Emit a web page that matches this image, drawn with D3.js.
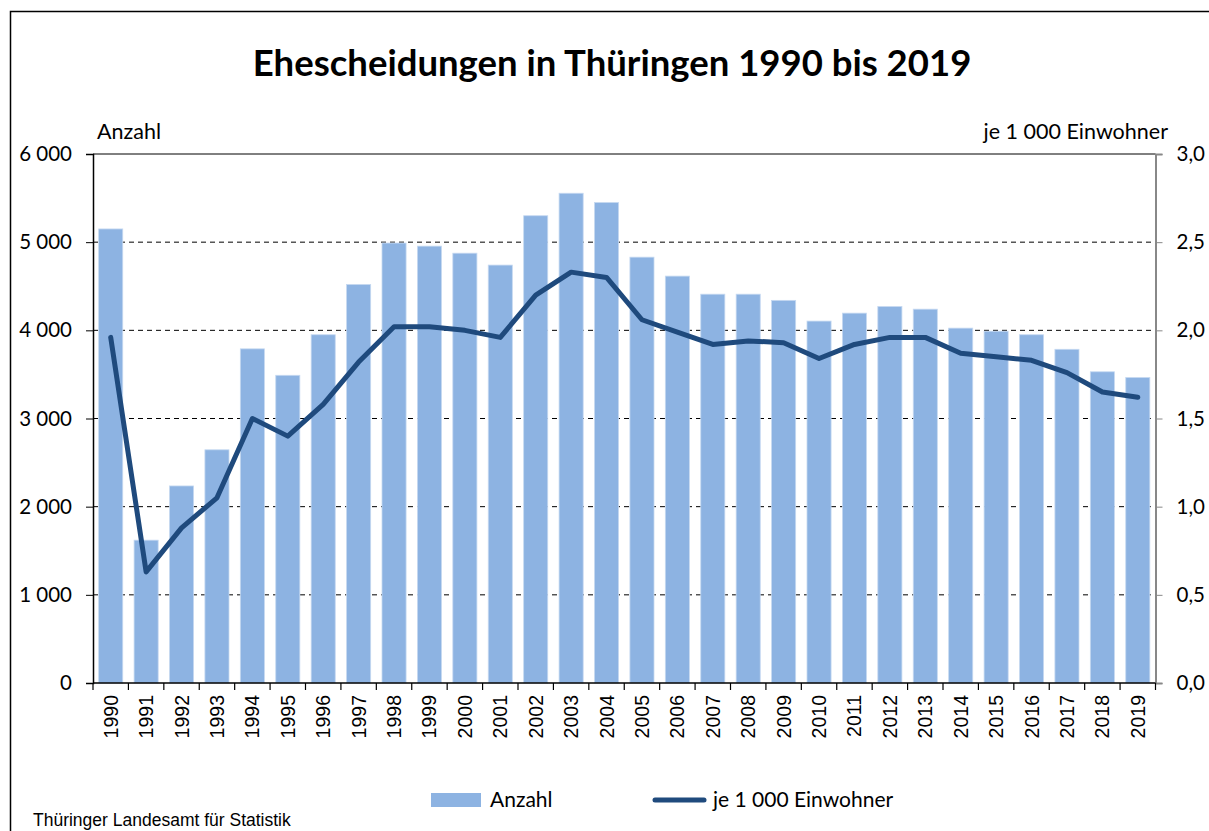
<!DOCTYPE html>
<html>
<head>
<meta charset="utf-8">
<script src="https://cdn.jsdelivr.net/npm/d3@7"></script>
<style>
  body { margin: 0; background: #fff; }
  text { fill: #000; }
</style>
</head>
<body>
<svg id="chart"></svg>
<script>
const years = ["1990","1991","1992","1993","1994","1995","1996","1997","1998","1999",
               "2000","2001","2002","2003","2004","2005","2006","2007","2008","2009",
               "2010","2011","2012","2013","2014","2015","2016","2017","2018","2019"];
const anzahl = [5150, 1620, 2235, 2645, 3790, 3490, 3950, 4520, 4990, 4955,
                4875, 4740, 5300, 5555, 5450, 4830, 4615, 4410, 4410, 4340,
                4105, 4195, 4270, 4240, 4025, 3990, 3950, 3785, 3530, 3465];
const jeEinwohner = [1.96, 0.63, 0.88, 1.05, 1.50, 1.40, 1.58, 1.82, 2.02, 2.02,
                     2.00, 1.96, 2.20, 2.33, 2.30, 2.06, 1.99, 1.92, 1.94, 1.93,
                     1.84, 1.92, 1.96, 1.96, 1.87, 1.85, 1.83, 1.76, 1.65, 1.62];
const leftTicks = [0, 1000, 2000, 3000, 4000, 5000, 6000];
const rightTicks = [0, 0.5, 1.0, 1.5, 2.0, 2.5, 3.0];

const W = 1209, H = 831;
const plot = { left: 93, right: 1155.5, top: 154, bottom: 683 };
const uiFont = "Lato, 'Open Sans', sans-serif";
const arial = "'Liberation Sans', Arial, sans-serif";
const barColor = "#8db3e2";
const lineColor = "#1f4a7d";

const svg = d3.select("#chart").attr("width", W).attr("height", H);

// outer frame
svg.append("rect")
  .attr("x", 10.5).attr("y", 11.5)
  .attr("width", W).attr("height", H)
  .attr("fill", "none").attr("stroke", "#000").attr("stroke-width", 1.5);

svg.append("text")
  .attr("x", 612).attr("y", 76)
  .attr("text-anchor", "middle")
  .attr("font-family", uiFont).attr("font-weight", "bold").attr("font-size", 36.5)
  .text("Ehescheidungen in Thüringen 1990 bis 2019");

const x = d3.scaleBand().domain(years).range([plot.left, plot.right]).paddingInner(0.32).paddingOuter(0.16);
const xEdge = d3.scaleBand().domain(years).range([plot.left, plot.right]);
const yL = d3.scaleLinear().domain([0, 6000]).range([plot.bottom, plot.top]);
const yR = d3.scaleLinear().domain([0, 3]).range([plot.bottom, plot.top]);

const fmtL = d => d3.format(",")(d).replace(/,/g, " ");
const fmtR = d => d3.format(".1f")(d).replace(".", ",");

// gridlines
svg.append("g").selectAll("line")
  .data(leftTicks.filter(d => d > 0))
  .join("line")
  .attr("x1", plot.left).attr("x2", plot.right)
  .attr("y1", d => yL(d)).attr("y2", d => yL(d))
  .attr("stroke", "#000").attr("stroke-width", 1)
  .attr("stroke-dasharray", d => d === 6000 ? null : "5,4");

// bars
svg.append("g").selectAll("rect")
  .data(years)
  .join("rect")
  .attr("x", d => x(d))
  .attr("y", (d, i) => yL(anzahl[i]))
  .attr("width", x.bandwidth())
  .attr("height", (d, i) => plot.bottom - yL(anzahl[i]))
  .attr("fill", barColor)
  .attr("stroke", "#c6d9f1").attr("stroke-width", 0.8);

// line
const line = d3.line()
  .x((d, i) => xEdge(years[i]) + xEdge.bandwidth() / 2)
  .y(d => yR(d));
svg.append("path")
  .datum(jeEinwohner)
  .attr("d", line)
  .attr("fill", "none")
  .attr("stroke", lineColor).attr("stroke-width", 5)
  .attr("stroke-linejoin", "round").attr("stroke-linecap", "round");

// left axis
const axL = svg.append("g")
  .attr("transform", `translate(${plot.left},0)`)
  .call(d3.axisLeft(yL).tickValues(leftTicks).tickFormat(fmtL).tickSize(7).tickPadding(14));
axL.select(".domain").attr("stroke", "#000").attr("stroke-width", 1.5);
axL.selectAll(".tick line").attr("stroke", "#000");
axL.selectAll(".tick text").attr("font-family", uiFont).attr("font-size", 20.5).attr("fill", "#000");

// right axis
const axR = svg.append("g")
  .attr("transform", `translate(${plot.right},0)`)
  .call(d3.axisRight(yR).tickValues(rightTicks).tickFormat(fmtR).tickSize(7).tickPadding(14));
axR.select(".domain").attr("stroke", "#888").attr("stroke-width", 2);
axR.selectAll(".tick line").attr("stroke", "#888");
axR.selectAll(".tick text").attr("font-family", uiFont).attr("font-size", 20.5).attr("fill", "#000");

// bottom axis: ticks at category boundaries
const axB = svg.append("g").attr("transform", `translate(0,${plot.bottom})`);
axB.append("line")
  .attr("x1", plot.left).attr("x2", plot.right)
  .attr("stroke", "#000").attr("stroke-width", 1.5);
axB.selectAll("line.tk")
  .data(years.concat(["end"]))
  .join("line").attr("class", "tk")
  .attr("x1", (d, i) => i < years.length ? xEdge(d) : plot.right)
  .attr("x2", (d, i) => i < years.length ? xEdge(d) : plot.right)
  .attr("y1", 0).attr("y2", 7)
  .attr("stroke", "#000").attr("stroke-width", 1.2);
axB.selectAll("text")
  .data(years)
  .join("text")
  .attr("transform", d => `translate(${xEdge(d) + xEdge.bandwidth() / 2 + 7},12) rotate(-90)`)
  .attr("text-anchor", "end")
  .attr("font-family", arial).attr("font-size", 19.5)
  .text(d => d);

// axis titles
svg.append("text")
  .attr("x", 97).attr("y", 139)
  .attr("font-family", uiFont).attr("font-size", 21.5)
  .text("Anzahl");
svg.append("text")
  .attr("x", 1168).attr("y", 139)
  .attr("text-anchor", "end")
  .attr("font-family", uiFont).attr("font-size", 21.5)
  .text("je 1 000 Einwohner");

// legend
const lg = svg.append("g");
lg.append("rect").attr("x", 431).attr("y", 793).attr("width", 50).attr("height", 14).attr("fill", barColor);
lg.append("text").attr("x", 490).attr("y", 807)
  .attr("font-family", uiFont).attr("font-size", 21).text("Anzahl");
lg.append("line").attr("x1", 655).attr("x2", 704).attr("y1", 800).attr("y2", 800)
  .attr("stroke", lineColor).attr("stroke-width", 5).attr("stroke-linecap", "round");
lg.append("text").attr("x", 713).attr("y", 807)
  .attr("font-family", uiFont).attr("font-size", 21).text("je 1 000 Einwohner");

// source
svg.append("text")
  .attr("x", 33).attr("y", 826)
  .attr("font-family", arial).attr("font-size", 17.5)
  .text("Thüringer Landesamt für Statistik");
</script>
</body>
</html>
